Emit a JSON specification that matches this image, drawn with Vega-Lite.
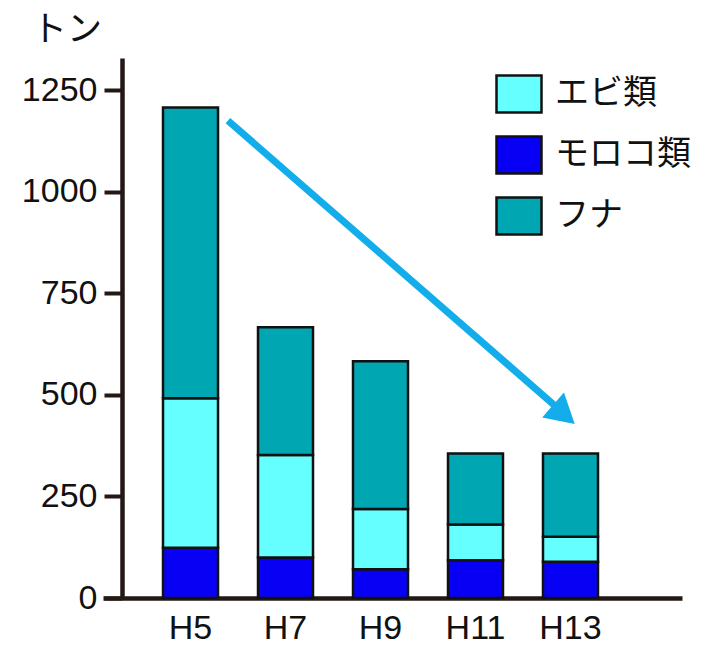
{
  "$schema": "https://vega.github.io/schema/vega-lite/v6.json",
  "autosize": {"type": "none"},
  "width": 579,
  "height": 540,
  "padding": {"left": 103, "top": 58, "right": 23, "bottom": 49},
  "background": "white",
  "title": {"text": "トン", "anchor": "start", "frame": "group", "dx": -71, "offset": 10, "fontSize": 35, "font": "Noto Sans CJK JP", "fontWeight": "normal", "color": "#111111"},
  "config": {"view": {"stroke": null}},
  "datasets": {
    "bars": [
      {"year": "H5", "kind": "モロコ類", "tons": 124, "ord": 1},
      {"year": "H5", "kind": "エビ類", "tons": 368, "ord": 2},
      {"year": "H5", "kind": "フナ", "tons": 716, "ord": 3},
      {"year": "H7", "kind": "モロコ類", "tons": 100, "ord": 1},
      {"year": "H7", "kind": "エビ類", "tons": 252, "ord": 2},
      {"year": "H7", "kind": "フナ", "tons": 315, "ord": 3},
      {"year": "H9", "kind": "モロコ類", "tons": 71, "ord": 1},
      {"year": "H9", "kind": "エビ類", "tons": 148, "ord": 2},
      {"year": "H9", "kind": "フナ", "tons": 364, "ord": 3},
      {"year": "H11", "kind": "モロコ類", "tons": 93, "ord": 1},
      {"year": "H11", "kind": "エビ類", "tons": 88, "ord": 2},
      {"year": "H11", "kind": "フナ", "tons": 175, "ord": 3},
      {"year": "H13", "kind": "モロコ類", "tons": 89, "ord": 1},
      {"year": "H13", "kind": "エビ類", "tons": 62, "ord": 2},
      {"year": "H13", "kind": "フナ", "tons": 205, "ord": 3}
    ],
    "arrow": [
      {"from": "H5", "to": "H13", "y1": 1176, "y2": 458}
    ],
    "head": [
      {"year": "H13", "y": 452}
    ]
  },
  "layer": [
    {
      "data": {"name": "bars"},
      "mark": {"type": "bar", "stroke": "#111111", "strokeWidth": 2.5},
      "encoding": {
        "x": {
          "field": "year", "type": "nominal",
          "scale": {"domain": ["H5", "H7", "H9", "H11", "H13"], "paddingInner": 0.421, "paddingOuter": 0.758, "align": 0.4167},
          "axis": {
            "title": null, "labelAngle": 0, "ticks": false, "domainColor": "#231815", "domainWidth": 4.5,
            "labelFont": "Liberation Sans", "labelFontSize": 34, "labelColor": "#111111", "labelPadding": 13
          }
        },
        "y": {
          "field": "tons", "type": "quantitative", "stack": "zero",
          "scale": {"domain": [0, 1330], "nice": false},
          "axis": {
            "title": null, "values": [0, 250, 500, 750, 1000, 1250], "format": "d", "grid": false, "offset": -19,
            "domainColor": "#231815", "domainWidth": 4.5, "tickColor": "#231815", "tickWidth": 4, "tickSize": 18,
            "labelFont": "Liberation Sans", "labelFontSize": 34, "labelColor": "#111111", "labelPadding": 7
          }
        },
        "color": {
          "field": "kind", "type": "nominal",
          "scale": {"domain": ["エビ類", "モロコ類", "フナ"], "range": ["#66FFFF", "#0800F5", "#00A6B2"]},
          "legend": {
            "title": null, "orient": "none", "legendX": 392, "legendY": 12, "padding": 0,
            "symbolType": "M-1,-0.82H1V0.82H-1Z", "symbolSize": 2025, "symbolStrokeColor": "#111111", "symbolStrokeWidth": 2.5,
            "symbolOpacity": 1,
            "labelFont": "Noto Sans CJK JP", "labelFontSize": 34, "labelColor": "#111111", "labelOffset": 12, "rowPadding": 13
          }
        },
        "order": {"field": "ord", "type": "quantitative"}
      }
    },
    {
      "data": {"name": "arrow"},
      "mark": {"type": "rule", "color": "#12ADEA", "strokeWidth": 7},
      "encoding": {
        "x": {"field": "from", "type": "nominal", "bandPosition": 1.18},
        "x2": {"field": "to", "bandPosition": 0.35},
        "y": {"field": "y1", "type": "quantitative"},
        "y2": {"field": "y2"}
      }
    },
    {
      "data": {"name": "head"},
      "mark": {"type": "point", "shape": "triangle-right", "filled": true, "color": "#12ADEA", "opacity": 1, "size": 1100, "angle": 41},
      "encoding": {
        "x": {"field": "year", "type": "nominal", "bandPosition": 0.38},
        "y": {"field": "y", "type": "quantitative"}
      }
    }
  ]
}
